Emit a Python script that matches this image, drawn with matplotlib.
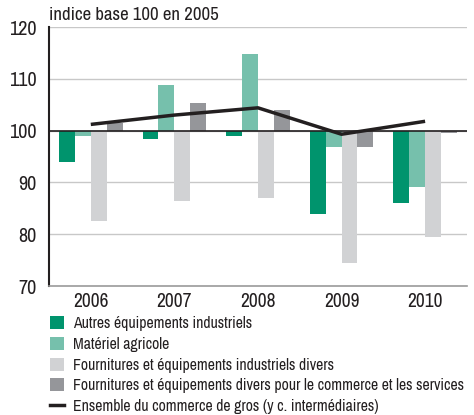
import matplotlib
matplotlib.use("Agg")
import matplotlib.pyplot as plt
from matplotlib.patches import Patch
from matplotlib.lines import Line2D
import numpy as np

plt.rcParams['font.family'] = ['Archivo Narrow', 'Liberation Sans', 'DejaVu Sans']

years = ['2006', '2007', '2008', '2009', '2010']
autres_equip = [94.0, 98.4, 99.0, 83.9, 86.0]
materiel_agricole = [99.0, 108.8, 114.8, 96.9, 89.2]
fournitures_indus = [82.6, 86.4, 87.0, 74.4, 79.5]
fournitures_divers = [101.5, 105.4, 104.0, 96.9, 99.6]
ensemble = [101.2, 103.0, 104.4, 99.3, 101.8]

labels = ['Autres équipements industriels',
          'Matériel agricole',
          'Fournitures et équipements industriels divers',
          'Fournitures et équipements divers pour le commerce et les services',
          'Ensemble du commerce de gros (y c. intermédiaires)']
colors = ['#00946D', '#76C0AC', '#D1D2D4', '#95969A']
line_color = '#231F20'

fig = plt.figure(figsize=(4.74, 4.15), dpi=100)
ax = fig.add_axes([0.1034, 0.3108, 0.8816, 0.6241])

x = np.arange(len(years))
w = 0.19
series = [autres_equip, materiel_agricole, fournitures_indus, fournitures_divers]
for i, (vals, c) in enumerate(zip(series, colors)):
    heights = [v - 100 for v in vals]
    ax.bar(x + (i - 1.5) * w, heights, width=w, bottom=100, color=c, zorder=2)

ax.plot(x, ensemble, color=line_color, lw=2.5, zorder=4, solid_capstyle='butt')

ax.set_xlim(-0.5, len(years) - 0.5)
ax.set_ylim(70, 120)
ax.set_yticks(range(70, 121, 10))
for yv in range(80, 121, 10):
    ax.axhline(yv, color='#C8C8C8', lw=1, zorder=1)
ax.axhline(100, color='#231F20', lw=1.2, zorder=3)
ax.set_xticks(x)
ax.set_xticklabels(years)
ax.tick_params(axis='both', length=0, labelsize=14.5, colors='#231F20')
ax.tick_params(axis='x', pad=4, labelsize=14)
ax.tick_params(axis='y', pad=9)
for s in ['top', 'right']:
    ax.spines[s].set_visible(False)
ax.spines['left'].set_color('#231F20')
ax.spines['left'].set_linewidth(1.5)
ax.spines['bottom'].set_color('#9A9A9A')
ax.spines['bottom'].set_linewidth(1.2)

fig.text(0.104, 0.963, 'indice base 100 en 2005', fontsize=13.5, va='center', ha='left', color='#231F20')

handles = [Patch(facecolor=c, edgecolor='none') for c in colors]
handles.append(Line2D([0], [0], color=line_color, lw=2.5))
fig.legend(handles, labels, loc='upper left', bbox_to_anchor=(0.105, 0.238),
           frameon=False, fontsize=11.3, handlelength=0.9, handleheight=0.9,
           handletextpad=0.6, labelspacing=0.36, borderaxespad=0, borderpad=0,
           labelcolor='#231F20')

fig.savefig('out.png', dpi=100)
